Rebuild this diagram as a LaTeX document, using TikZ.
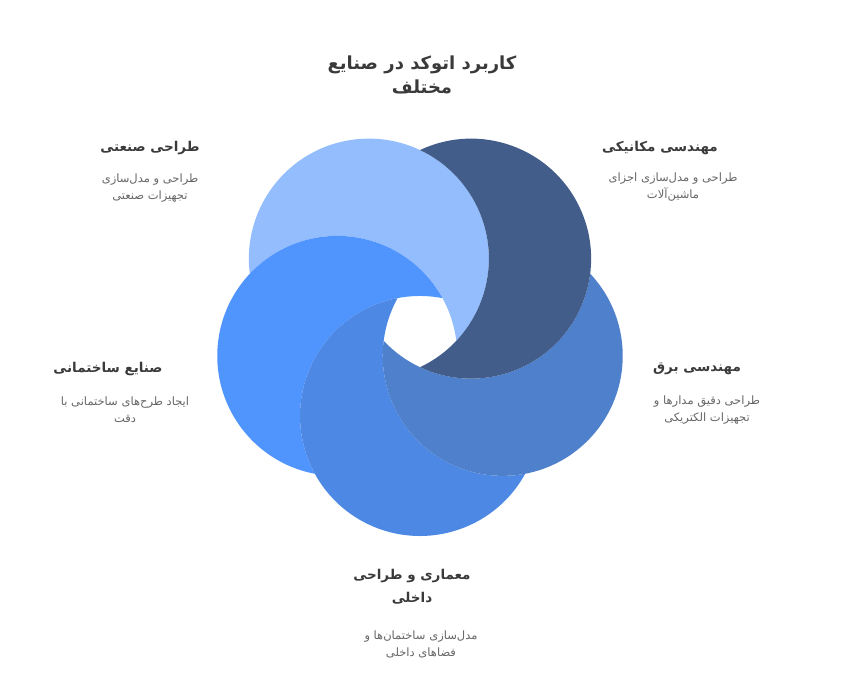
\documentclass[tikz,border=0pt]{standalone}
\usepackage{fontspec}
\newfontfamily\farsi[Script=Arabic]{DejaVu Sans}
\TeXXeTstate=1
\usetikzlibrary{positioning}
\definecolor{indblue}{HTML}{94BDFE}
\definecolor{mechblue}{HTML}{425D8A}
\definecolor{elecblue}{HTML}{4F80CB}
\definecolor{archblue}{HTML}{4D89E4}
\definecolor{buildblue}{HTML}{5094FE}
\definecolor{headgray}{HTML}{3A3A3A}
\definecolor{notegray}{HTML}{666666}
\newcommand{\fa}[1]{\beginR #1\endR}

\begin{document}
\begin{tikzpicture}[x=1pt,y=1pt,
	maintitle/.style={text=headgray,font=\farsi\bfseries\fontsize{18}{24}\selectfont,align=center},
	head/.style={text=headgray,font=\farsi\bfseries\fontsize{13.5}{23}\selectfont,align=center},
	note/.style={text=notegray,font=\farsi\fontsize{11.5}{17}\selectfont,align=center},]
	\useasboundingbox (0,0) rectangle (841,673);
	\coordinate (o) at (420,344);
	% five crescents: each circle minus the next one
	\foreach \a/\c in {126/indblue,198/buildblue,270/archblue,342/elecblue,54/mechblue}{
		\fill[\c] ([shift={({\a+36}:178.94pt)}]o)
			arc[start angle=\a+61.22,end angle=\a-169.22,radius=120pt]
			arc[start angle=\a+241.22,end angle=\a+370.78,radius=120pt] -- cycle;
	}
	\node[maintitle] (ttl) at (422,598) {\fa{کاربرد اتوکد در صنایع}\\\fa{مختلف}};
	% top right
	\node[head] (mech) at (660,525) {\fa{مهندسی مکانیکی}};
	\node[note] (mechnote) at (673,486) {\fa{طراحی و مدل‌سازی اجزای}\\\fa{ماشین‌آلات}};
	% top left
	\node[head] (ind) at (150,525) {\fa{طراحی صنعتی}};
	\node[note] (indnote) at (150,485) {\fa{طراحی و مدل‌سازی}\\\fa{تجهیزات صنعتی}};
	% right
	\node[head] (elec) at (697,304) {\fa{مهندسی برق}};
	\node[note] (elecnote) at (707,263) {\fa{طراحی دقیق مدارها و}\\\fa{تجهیزات الکتریکی}};
	% left
	\node[head] (build) at (108,304) {\fa{صنایع ساختمانی}};
	\node[note] (buildnote) at (125,263) {\fa{ایجاد طرح‌های ساختمانی با}\\\fa{دقت}};
	% bottom
	\node[head] (arch) at (412,86) {\fa{معماری و طراحی}\\\fa{داخلی}};
	\node[note] (archnote) at (421,29) {\fa{مدل‌سازی ساختمان‌ها و}\\\fa{فضاهای داخلی}};
\end{tikzpicture}
\end{document}
